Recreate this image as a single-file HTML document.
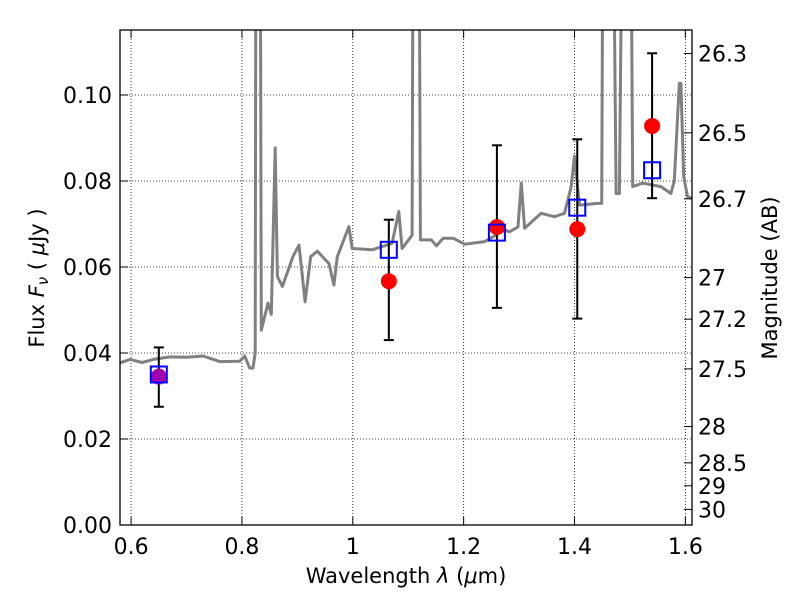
<!DOCTYPE html>
<html><head><meta charset="utf-8"><style>
body{margin:0;background:#fff}
svg text{font-family:"DejaVu Sans","Liberation Sans",sans-serif;fill:#000}
</style></head><body>
<svg id="chart" width="800" height="600" xmlns="http://www.w3.org/2000/svg">
<defs><clipPath id="clip"><rect x="120" y="30" width="572" height="495"/></clipPath></defs>
<g id="grid"></g>
<g id="spec" clip-path="url(#clip)"></g>
<g id="pts"></g>
<rect x="120" y="30" width="572" height="495" fill="none" stroke="#000" stroke-width="1.3"/>
<g id="axes"></g>
<text x="406" y="583" font-size="21" text-anchor="middle">Wavelength  <tspan font-style="italic">λ</tspan> (<tspan font-style="italic">μ</tspan>m)</text>
<text transform="translate(44,278) rotate(-90)" font-size="21" text-anchor="middle">Flux  <tspan font-style="italic">F</tspan><tspan font-style="italic" font-size="15" dy="4">ν</tspan><tspan dy="-4">   (  </tspan><tspan font-style="italic">μ</tspan>Jy )</text>
<text transform="translate(777,278) rotate(-90)" font-size="21" text-anchor="middle">Magnitude (AB)</text>
</svg>
<script>
const specLam=[0.58,0.598,0.62,0.64,0.67,0.70,0.73,0.76,0.796,0.805,0.814,0.82,0.824,0.826,0.832,0.835,0.847,0.853,0.86,0.864,0.873,0.892,0.903,0.914,0.924,0.936,0.957,0.966,0.972,0.993,0.999,1.035,1.071,1.083,1.089,1.107,1.110,1.118,1.122,1.142,1.151,1.163,1.181,1.202,1.238,1.274,1.283,1.298,1.304,1.310,1.340,1.364,1.382,1.394,1.400,1.409,1.442,1.449,1.453,1.466,1.475,1.481,1.490,1.499,1.505,1.523,1.556,1.574,1.580,1.589,1.592,1.597,1.604,1.612];
const specFlux=[0.0377,0.0385,0.0378,0.0385,0.0391,0.0390,0.0393,0.038,0.0381,0.0393,0.0365,0.0365,0.040,0.2,0.2,0.0453,0.0516,0.049,0.0877,0.0578,0.0555,0.0624,0.0651,0.0519,0.0624,0.0637,0.0608,0.0558,0.0624,0.0694,0.0643,0.0640,0.0655,0.0729,0.0643,0.0674,0.2,0.2,0.0663,0.0663,0.0649,0.0667,0.0667,0.0653,0.0659,0.0686,0.0682,0.0693,0.0795,0.069,0.0725,0.0717,0.0725,0.0787,0.0858,0.0744,0.0748,0.0748,0.2,0.2,0.0771,0.0771,0.2,0.2,0.0787,0.0795,0.0787,0.0771,0.080,0.1027,0.1027,0.081,0.0763,0.0760];
const bandLam=[0.65,1.065,1.26,1.405,1.54];
const obsFlux=[0.0345,0.0567,0.0693,0.0688,0.0928];
const errLo=[0.0275,0.043,0.0505,0.048,0.076];
const errHi=[0.0413,0.071,0.0883,0.0897,0.1097];
const modelFlux=[0.035,0.064,0.068,0.0738,0.0825];
const xTicks=[0.6,0.8,1,1.2,1.4,1.6];
const xTickLabels=["0.6","0.8","1","1.2","1.4","1.6"];
const yTicks=[0,0.02,0.04,0.06,0.08,0.10];
const yTickLabels=["0.00","0.02","0.04","0.06","0.08","0.10"];
const magTicks=[26.3,26.5,26.7,27,27.2,27.5,28,28.5,29,30];
const magLabels=["26.3","26.5","26.7","27","27.2","27.5","28","28.5","29","30"];

const X=l=>120+(l-0.58)/(1.612-0.58)*572;
const Y=f=>525-f*4300;
const NS="http://www.w3.org/2000/svg";
function mk(tag,parent,attrs){const e=document.createElementNS(NS,tag);for(const k in attrs)e.setAttribute(k,attrs[k]);document.getElementById(parent).appendChild(e);return e;}

xTicks.forEach((t,i)=>{
  const g=mk('line','grid',{x1:X(t),x2:X(t),y1:30,y2:525,stroke:'#000','stroke-width':0.8,'stroke-dasharray':'1,2'});
  
  
  mk('line','axes',{x1:X(t),x2:X(t),y1:525,y2:517,stroke:'#000'});
  mk('line','axes',{x1:X(t),x2:X(t),y1:30,y2:38,stroke:'#000'});
  const tx=mk('text','axes',{x:X(t),y:554,'font-size':22,'text-anchor':'middle'});
  tx.textContent=xTickLabels[i];
  
  
});
yTicks.forEach((t,i)=>{
  const g=mk('line','grid',{x1:120,x2:692,y1:Y(t),y2:Y(t),stroke:'#000','stroke-width':0.8,'stroke-dasharray':'1,2'});
  
  
  mk('line','axes',{x1:120,x2:128,y1:Y(t),y2:Y(t),stroke:'#000'});
  const tx=mk('text','axes',{x:112,y:Y(t)+8,'font-size':22,'text-anchor':'end'});
  tx.textContent=yTickLabels[i];
  
  
});
magTicks.forEach((m,i)=>{
  const y=Y(Math.pow(10,(23.9-m)/2.5));
  mk('line','axes',{x1:692,x2:684,y1:y,y2:y,stroke:'#000'});
  const tx=mk('text','axes',{x:698,y:y+8,'font-size':22});
  tx.textContent=magLabels[i];
  
  
});
const d=specLam.map((l,i)=>(i?'L':'M')+X(l).toFixed(1)+','+Y(specFlux[i]).toFixed(1)).join('');
const p=mk('path','spec',{d:d,fill:'none',stroke:'#808080','stroke-width':3,'stroke-linejoin':'round'});


bandLam.forEach((l,i)=>{
  const x=X(l);
  const eb=mk('line','pts',{x1:x,x2:x,y1:Y(errLo[i]),y2:Y(errHi[i]),stroke:'#000','stroke-width':2});
  
  
  mk('line','pts',{x1:x-5,x2:x+5,y1:Y(errLo[i]),y2:Y(errLo[i]),stroke:'#000','stroke-width':2});
  mk('line','pts',{x1:x-5,x2:x+5,y1:Y(errHi[i]),y2:Y(errHi[i]),stroke:'#000','stroke-width':2});
  const c=mk('circle','pts',{cx:x,cy:Y(obsFlux[i]),r:8,fill:i===0?'#a000b0':'#ff0000'});
  
  
  const s=mk('rect','pts',{x:x-8,y:Y(modelFlux[i])-8,width:16,height:16,fill:'none',stroke:'#0000ff','stroke-width':2});
  
  
});
</script>
</body></html>
